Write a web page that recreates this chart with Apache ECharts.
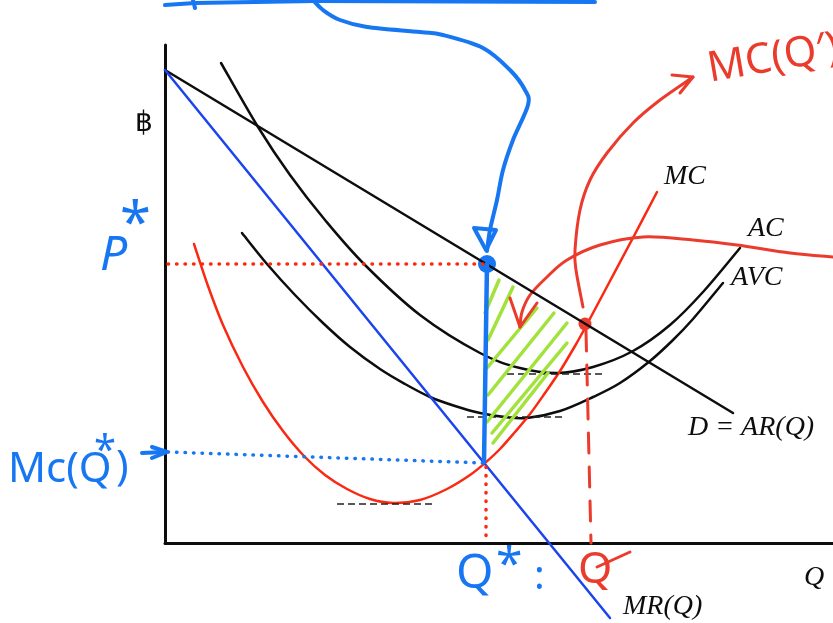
<!DOCTYPE html>
<html>
<head>
<meta charset="utf-8">
<script src="https://cdn.jsdelivr.net/npm/echarts@6/dist/echarts.min.js"></script>
<style>
  html, body { margin: 0; padding: 0; background: #ffffff; }
  #chart { width: 833px; height: 623px; }
</style>
</head>
<body>
<div id="chart"></div>
<script>
// Monopoly short-run equilibrium: quantity Q on x, price (฿) on y, arbitrary units.
const qMax = 668;
const pMax = 498;

// Market curves
const demand = [[0, 473], [568, 130]];
const marginalRevenue = [[0, 473], [445, -75]];
const marginalCost = [[29, 299], [43, 257], [58, 218], [78, 176], [98, 141], [118, 112], [139, 87], [160, 68],
  [182, 54], [205, 44], [228, 40], [255, 43], [282, 54], [305, 68], [320, 80], [335, 94], [350, 111],
  [365, 129], [380, 150], [395, 172], [410, 197], [420, 215], [445, 262], [470, 309], [492, 351]];
const averageCost = [[56, 480], [93, 416], [125, 368], [160, 323], [200, 278], [255, 228], [315, 190],
  [355, 175], [392, 170], [428, 176], [468, 192], [505, 218], [538, 251], [575, 295]];
const averageVariableCost = [[77, 310], [102, 279], [130, 248], [158, 220], [185, 196], [215, 174],
  [240, 159], [265, 146], [290, 137], [315, 130], [340, 126], [362, 125], [395, 132], [428, 146],
  [455, 160], [485, 182], [508, 203], [528, 224], [558, 260]];

// Short dashed marks at the minimum of MC, AVC and AC
const minimumMarks = [[[172, 39], [270, 39]], [[302, 126], [401, 126]], [[342, 169], [440, 169]]];

// Equilibrium: Q*, P*, MC(Q*) and the alternative output Q'
const qStar = 321, pStar = 279, mcAtQStar = 80;
const qPrime = 420, mcAtQPrime = 219;

// Guide lines drawn by hand
const priceGuide = [[3, pStar], [qStar, pStar]];
const mcGuide = [[3, 91], [qStar - 2, mcAtQStar]];
const qStarGuide = [[qStar, mcAtQStar - 4], [qStar, 0]];
const qPrimeGuide = [[qPrime + 1, mcAtQPrime - 7], [qPrime + 6, 0]];
const qStarStem = [[qStar + 1, pStar], [qStar - 2, mcAtQStar + 1]];

// Hatched loss area between P* stem and MC
const hatchStrokes = [[[334, 263], [320, 230]], [[348, 256], [323, 203]], [[372, 235], [322, 175]],
  [[389, 230], [323, 148]], [[402, 220], [322, 121]], [[402, 200], [327, 110]], [[383, 170], [328, 100]]];

// Hand-drawn arrows
const blueArrowPath = [[148, 543], [158, 533], [175, 523], [202, 516], [255, 511], [278, 508], [318, 495],
  [345, 473], [360, 453], [363, 438], [348, 403], [338, 373], [332, 343], [325, 313], [322, 292]];
const blueArrowHead = [[309, 315], [331, 313], [321, 293], [309, 315]];
const blueTopStroke = [[0, 538], [30, 540], [150, 542], [430, 541]];
const blueTopTick = [[28, 543], [30, 535]];
const redArrowPath = [[418, 236], [411, 273], [410, 293], [415, 333], [425, 363], [442, 390], [468, 420],
  [495, 443], [528, 466]];
const redArrowHead = [[507, 468], [528, 466], [515, 450]];
const redWavePath = [[668, 286], [625, 290], [572, 298], [528, 303], [478, 306], [435, 298], [402, 283],
  [382, 266], [365, 248], [357, 231], [355, 216]];
const redWaveHead = [[345, 245], [355, 216], [372, 240]];
const mcPointer = [[-23, 90], [0, 91]];
const mcPointerHead = [[-13, 96], [2, 91], [-13, 85]];
const qPrimeTail = [[432, -24], [465, -9]];

const INK = '#0d0d0d';
const MR_BLUE = '#1b44f0';
const MC_RED = '#fa2a12';
const PEN_RED = '#ea3b2c';
const PEN_BLUE = '#1777f2';
const PEN_GREEN = '#a1e33a';

function line(data, color, width, extra) {
  return Object.assign({
    type: 'line', data: data, showSymbol: false, symbol: 'none', clip: false, silent: true,
    lineStyle: { color: color, width: width, cap: 'round', join: 'round' }
  }, extra || {});
}
function strokes(list, color, width, extra) {
  return Object.assign({
    type: 'lines', coordinateSystem: 'cartesian2d', polyline: true, clip: false, silent: true,
    data: list.map(function (c) { return { coords: c }; }),
    lineStyle: { color: color, width: width, opacity: 1, cap: 'round', join: 'round' }
  }, extra || {});
}

// Catmull-Rom spline through the projected points, as an SVG path string
function splinePath(pts) {
  let d = 'M' + pts[0][0] + ' ' + pts[0][1];
  for (let i = 0; i < pts.length - 1; i++) {
    const p0 = pts[i - 1] || pts[i], p1 = pts[i], p2 = pts[i + 1], p3 = pts[i + 2] || pts[i + 1];
    const c1x = p1[0] + (p2[0] - p0[0]) / 6, c1y = p1[1] + (p2[1] - p0[1]) / 6;
    const c2x = p2[0] - (p3[0] - p1[0]) / 6, c2y = p2[1] - (p3[1] - p1[1]) / 6;
    d += ' C' + c1x + ' ' + c1y + ' ' + c2x + ' ' + c2y + ' ' + p2[0] + ' ' + p2[1];
  }
  return d;
}
// A smooth curve series: every point is a data item, mapped through the axes
function curve(data, color, width) {
  return {
    type: 'custom', coordinateSystem: 'cartesian2d', silent: true, clip: false, data: data,
    renderItem: function (params, api) {
      if (params.dataIndex !== 0) return null;
      const pts = data.map(function (p) { return api.coord(p); });
      return {
        type: 'path', shape: { pathData: splinePath(pts) },
        style: { fill: 'none', stroke: color, lineWidth: width, lineCap: 'round', lineJoin: 'round' }
      };
    }
  };
}

function label(text, x, y, font, color, extra) {
  return Object.assign({
    type: 'text', x: x, y: y, silent: true,
    style: {
      text: text, font: font, fill: color,
      align: 'left', verticalAlign: 'middle', textAlign: 'left', textVerticalAlign: 'middle'
    }
  }, extra || {});
}
const MATH = 'italic 28px "Liberation Serif"';
const HAND = '"Noto Sans"';

const chart = echarts.init(document.getElementById('chart'), null, { renderer: 'canvas' });
chart.setOption({
  animation: false,
  backgroundColor: '#ffffff',
  grid: { left: 165, right: 0, top: 45, bottom: 80 },
  xAxis: {
    type: 'value', min: 0, max: qMax,
    axisLine: { show: true, onZero: false, lineStyle: { color: INK, width: 3 } },
    axisTick: { show: false }, axisLabel: { show: false }, splitLine: { show: false }
  },
  yAxis: {
    type: 'value', min: 0, max: pMax,
    axisLine: { show: true, onZero: false, lineStyle: { color: INK, width: 3 } },
    axisTick: { show: false }, axisLabel: { show: false }, splitLine: { show: false }
  },
  series: [
    line(demand, INK, 2.5),
    line(marginalRevenue, MR_BLUE, 2.5),
    curve(averageCost, INK, 2.5),
    curve(averageVariableCost, INK, 2.5),
    curve(marginalCost, MC_RED, 2.5),
    strokes(minimumMarks, '#222222', 1.5, { polyline: false, lineStyle: { color: '#222222', width: 1.5, opacity: 1, type: [7, 4] } }),
    line(priceGuide, MC_RED, 3.5, { lineStyle: { color: MC_RED, width: 3.5, type: [0.5, 8], cap: 'round' } }),
    line(mcGuide, PEN_BLUE, 3.5, { lineStyle: { color: PEN_BLUE, width: 3.5, type: [0.5, 8], cap: 'round' } }),
    line(qStarGuide, MC_RED, 3.5, { lineStyle: { color: MC_RED, width: 3.5, type: [0.5, 8], cap: 'round' } }),
    line(qPrimeGuide, PEN_RED, 3, { lineStyle: { color: PEN_RED, width: 3, type: [20, 14], cap: 'round' } }),
    strokes(hatchStrokes, PEN_GREEN, 3.5),
    curve(redArrowPath, PEN_RED, 3),
    strokes([redArrowHead, redWaveHead, qPrimeTail], PEN_RED, 3),
    curve(redWavePath, PEN_RED, 3),
    curve(blueArrowPath, PEN_BLUE, 4),
    strokes([blueArrowHead, blueTopStroke, blueTopTick, mcPointer, mcPointerHead], PEN_BLUE, 4),
    line(qStarStem, PEN_BLUE, 4.5),
    {
      type: 'scatter', silent: true, clip: false, symbolSize: 18,
      data: [[qStar + 1, pStar]], itemStyle: { color: PEN_BLUE, opacity: 1 }
    },
    {
      type: 'scatter', silent: true, clip: false, symbolSize: 13,
      data: [[qPrime, mcAtQPrime]], itemStyle: { color: PEN_RED, opacity: 1 }
    }
  ],
  graphic: [
    label('฿', 135, 124, '28px "DejaVu Sans"', INK),
    label('MC', 664, 177, MATH, INK),
    label('AC', 748, 229, MATH, INK),
    label('AVC', 731, 278, MATH, INK),
    label('D = AR(Q)', 688, 428, MATH, INK),
    label('Q', 804, 578, MATH, INK),
    label('MR(Q)', 623, 607, MATH, INK),
    label('P', 100, 256, 'italic 48px ' + HAND, PEN_BLUE),
    label('*', 120, 226, '56px ' + HAND, PEN_BLUE),
    label('Mc(Q', 8, 470, '42px ' + HAND, PEN_BLUE),
    label('*', 94, 452, '40px ' + HAND, PEN_BLUE),
    label(')', 116, 468, '42px ' + HAND, PEN_BLUE),
    label('Q', 456, 574, '48px ' + HAND, PEN_BLUE),
    label('*', 496, 566, '48px ' + HAND, PEN_BLUE),
    label(':', 534, 578, '40px ' + HAND, PEN_BLUE),
    label('Q', 578, 570, '44px ' + HAND, PEN_RED),
    label('MC(Q′)', 708, 70, '42px ' + HAND, PEN_RED, { rotation: 0.17 })
  ]
});
</script>
</body>
</html>
